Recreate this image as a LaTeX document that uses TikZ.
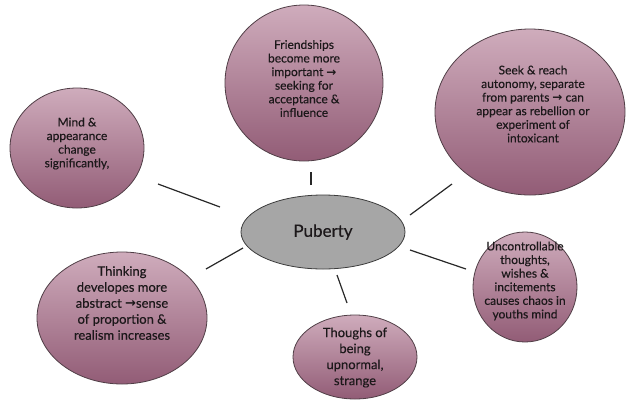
\documentclass[tikz,border=0pt]{standalone}
\usepackage{fontspec}
\setmainfont{Lato}[FakeBold=0.35]
\newfontfamily\arrowfont{DejaVu Sans}
\usetikzlibrary{shapes.geometric,calc}
\newcommand{\rarr}{{\arrowfont\bfseries →}}

\definecolor{bubtop}{RGB}{207,172,188}
\definecolor{bubbot}{RGB}{146,92,118}
\definecolor{bubedge}{RGB}{80,62,70}
\definecolor{hubfill}{RGB}{166,166,166}
\definecolor{hubedge}{RGB}{60,60,60}
\definecolor{inktext}{RGB}{28,24,26}
\definecolor{linkcol}{RGB}{40,40,40}

\tikzset{
  bubble/.style={ellipse, draw=bubedge, line width=0.8pt,
    top color=bubtop, bottom color=bubbot, inner sep=0pt},
  hub/.style={ellipse, draw=hubedge, line width=0.8pt, fill=hubfill, inner sep=0pt},
  btext/.style={align=center, text=inktext, inner sep=0pt,
    font=\fontsize{12}{13.6}\selectfont},
  bigtext/.style={btext, font=\fontsize{13}{16}\selectfont},
  link/.style={draw=linkcol, line width=1.2pt}
}

\begin{document}
\begin{tikzpicture}[x=1pt,y=-1pt]
\useasboundingbox (0,0) rectangle (627,400);

% central topic
\node[hub, minimum width=164pt, minimum height=74pt] (pub) at (323,232) {};
\node[btext, font=\fontsize{17}{18}\selectfont] (pubt) at (323,232) {Puberty};

% surrounding bubbles
\node[bubble, minimum width=134pt, minimum height=120pt] (mind) at (77,148) {};
\node[btext] (mindt) at (77,143.5) {Mind \&\\appearance\\change\\significantly,};

\node[bubble, minimum width=158pt, minimum height=156pt] (friend) at (304,83) {};
\node[btext] (friendt) at (304,78.5) {Friendships\\become more\\important \rarr\\seeking for\\acceptance \&\\influence};

\node[bubble, minimum width=190pt, minimum height=166pt] (seek) at (530,112) {};
\node[btext] (seekt) at (533,104) {Seek \& reach\\autonomy, separate\\from parents \rarr\ can\\appear as rebellion or\\experiment of\\intoxicant};

\node[bubble, minimum width=170pt, minimum height=132pt] (think) at (122,318) {};
\node[bigtext] (thinkt) at (122,303) {Thinking\\developes more\\abstract \rarr sense\\of proportion \&\\realism increases};

\node[bubble, minimum width=124pt, minimum height=84pt] (thou) at (355,357) {};
\node[bigtext] (thout) at (355,357.5) {Thoughs of\\being\\upnormal,\\strange};

\node[bubble, minimum width=104pt, minimum height=110pt] (unc) at (525,287) {};
\node[btext] (unct) at (525,281) {Uncontrollable\\thoughts,\\wishes \&\\incitements\\causes chaos in\\youths mind};

% spokes, detached from both ellipses
\draw[link] ($(pub)+(-103,-25)$) -- ($(mind)+(81,36)$);
\draw[link] ($(pub)+(-12,-47)$) -- ($(friend)+(7,89)$);
\draw[link] ($(pub)+(87,-17)$) -- ($(seek)+(-78,72)$);
\draw[link] ($(pub)+(87,18)$) -- ($(unc)+(-59,-18)$);
\draw[link] ($(pub)+(-80,16)$) -- ($(think)+(84,-49)$);
\draw[link] ($(pub)+(14,43)$) -- ($(thou)+(-8,-54)$);
\end{tikzpicture}
\end{document}
